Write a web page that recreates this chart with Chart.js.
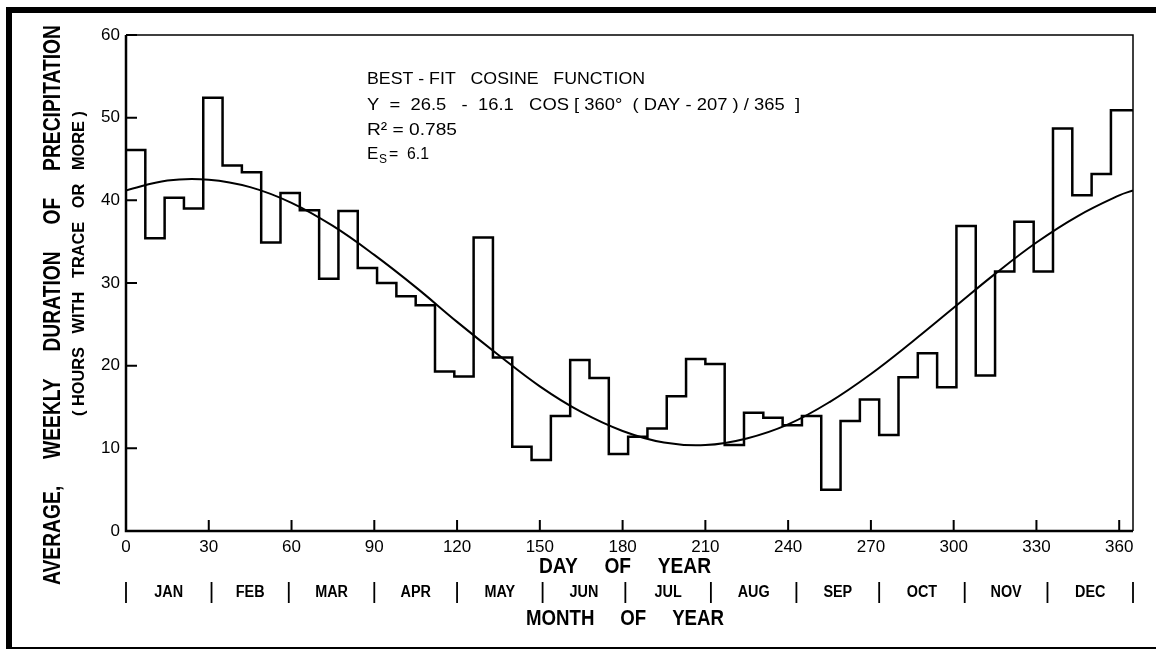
<!DOCTYPE html>
<html>
<head>
<meta charset="utf-8">
<script src="https://cdn.jsdelivr.net/npm/chart.js@4.4.1/dist/chart.umd.min.js"></script>
<style>
  html, body { margin: 0; padding: 0; background: #fff; }
  canvas { display: block; }
</style>
</head>
<body>
<canvas id="myChart" width="1156" height="650"></canvas>
<script>
// weekly bins (start day of each week) and average weekly hours of precipitation
const weekStarts = [0, 7, 14, 21, 28, 35, 42, 49, 56, 63, 70, 77, 84, 91, 98, 105, 112, 119, 126, 133,
    140, 147, 154, 161, 168, 175, 182, 189, 196, 203, 210, 217, 224, 231, 238, 245, 252, 259, 266, 273,
    280, 287, 294, 301, 308, 315, 322, 329, 336, 343, 350, 357];
const weeklyHours = [46.1, 35.4, 40.3, 39.0, 52.4, 44.2, 43.4, 34.9, 40.9, 38.8, 30.5, 38.7, 31.8, 30.0,
    28.4, 27.3, 19.3, 18.7, 35.5, 21.0, 10.2, 8.6, 13.9, 20.7, 18.5, 9.3, 11.4, 12.4, 16.3, 20.8, 20.2,
    10.4, 14.3, 13.7, 12.8, 13.9, 5.0, 13.3, 15.9, 11.6, 18.6, 21.5, 17.4, 36.9, 18.8, 31.4, 37.4, 31.4,
    48.7, 40.6, 43.2, 50.9];
const yearEnd = 365;

const fitDays = [0, 15, 30, 45, 60, 75, 90, 105, 120, 135, 150, 165, 180, 195, 210, 225, 240, 255, 270,
    285, 300, 315, 330, 345, 360, 365];
const fitHours = [41.2, 42.4, 42.5, 41.6, 39.7, 36.9, 33.4, 29.5, 25.3, 21.3, 17.5, 14.4, 12.1, 10.7,
    10.4, 11.2, 12.9, 15.6, 19.0, 22.9, 27.0, 31.1, 34.9, 38.1, 40.6, 41.2];

// axis ticks and months
const dayTicks = [0, 30, 60, 90, 120, 150, 180, 210, 240, 270, 300, 330, 360];
const hourTicks = [0, 10, 20, 30, 40, 50, 60];
const monthNames = ['JAN', 'FEB', 'MAR', 'APR', 'MAY', 'JUN', 'JUL', 'AUG', 'SEP', 'OCT', 'NOV', 'DEC'];
const monthStarts = [0, 31, 59, 90, 120, 151, 181, 212, 243, 273, 304, 334, 365];

const annotation = [
    'BEST - FIT   COSINE   FUNCTION',
    'Y  =  26.5   -  16.1   COS [ 360\u00b0  ( DAY - 207 ) / 365  ]',
    'R\u00b2 = 0.785'
];

const FONT = '"Liberation Sans", Arial, sans-serif';

let stepPoints = weekStarts.map((d, i) => ({ x: d, y: weeklyHours[i] }));
stepPoints.push({ x: yearEnd, y: weeklyHours[weeklyHours.length - 1] });
const fitPoints = fitDays.map((d, i) => ({ x: d, y: fitHours[i] }));

// draw text squeezed/stretched to a given width
function fitText(ctx, text, x, y, w, font) {
    ctx.font = font;
    const m = ctx.measureText(text).width;
    ctx.save();
    ctx.translate(x, y);
    ctx.scale(w / m, 1);
    ctx.textAlign = 'left';
    ctx.fillText(text, 0, 0);
    ctx.restore();
}

const decorations = {
    id: 'decorations',
    afterDraw(chart) {
        const ctx = chart.ctx;
        const area = chart.chartArea;
        const xs = chart.scales.x;
        const ys = chart.scales.y;
        ctx.save();
        ctx.fillStyle = '#000';
        ctx.strokeStyle = '#000';
        ctx.textBaseline = 'middle';

        // plot frame
        ctx.lineWidth = 1.5;
        ctx.beginPath();
        ctx.moveTo(area.left, area.top);
        ctx.lineTo(area.right, area.top);
        ctx.lineTo(area.right, area.bottom);
        ctx.stroke();
        ctx.lineWidth = 2.5;
        ctx.beginPath();
        ctx.moveTo(area.left, area.top);
        ctx.lineTo(area.left, area.bottom);
        ctx.lineTo(area.right, area.bottom);
        ctx.stroke();

        // inward tick marks
        ctx.lineWidth = 2;
        ctx.beginPath();
        for (const v of hourTicks) {
            const py = ys.getPixelForValue(v);
            ctx.moveTo(area.left, py);
            ctx.lineTo(area.left + 11, py);
        }
        for (const v of dayTicks) {
            const px = xs.getPixelForValue(v);
            ctx.moveTo(px, area.bottom);
            ctx.lineTo(px, area.bottom - 11);
        }
        ctx.stroke();

        // month row
        ctx.lineWidth = 1.8;
        ctx.beginPath();
        for (const d of monthStarts) {
            const px = xs.getPixelForValue(d);
            ctx.moveTo(px, 582);
            ctx.lineTo(px, 603);
        }
        ctx.stroke();
        ctx.font = 'bold 16px ' + FONT;
        for (let i = 0; i < monthNames.length; i++) {
            const a = xs.getPixelForValue(monthStarts[i]);
            const b = xs.getPixelForValue(monthStarts[i + 1]);
            const w = ctx.measureText(monthNames[i]).width * 0.9;
            fitText(ctx, monthNames[i], (a + b) / 2 - w / 2, 593, w, 'bold 16px ' + FONT);
        }

        // axis titles
        fitText(ctx, 'DAY     OF     YEAR', 539, 567, 172, 'bold 22px ' + FONT);
        fitText(ctx, 'MONTH     OF     YEAR', 526, 619, 198, 'bold 22px ' + FONT);

        ctx.save();
        ctx.translate(54, 585);
        ctx.rotate(-Math.PI / 2);
        fitText(ctx, 'AVERAGE,     WEEKLY     DURATION     OF     PRECIPITATION', 0, 0, 560, 'bold 23px ' + FONT);
        ctx.restore();
        ctx.save();
        ctx.translate(79, 416);
        ctx.rotate(-Math.PI / 2);
        fitText(ctx, '( HOURS   WITH   TRACE   OR   MORE )', 0, 0, 305, 'bold 17px ' + FONT);
        ctx.restore();

        // fit annotation
        const f = '17px ' + FONT;
        fitText(ctx, annotation[0], 367, 79, 278, f);
        fitText(ctx, annotation[1], 367, 105, 433, f);
        fitText(ctx, annotation[2], 367, 130, 90, f);
        ctx.font = f;
        ctx.textAlign = 'left';
        ctx.fillText('E', 367, 154);
        ctx.font = '12px ' + FONT;
        ctx.fillText('S', 379, 160);
        fitText(ctx, '=  6.1', 389, 154, 40, f);

        // outer frame
        ctx.fillRect(6, 7, 6, 642);
        ctx.fillRect(6, 7, 1150, 6);
        ctx.fillRect(6, 647, 1150, 2);
        ctx.restore();
    }
};

const ctx = document.getElementById('myChart');
new Chart(ctx, {
    type: 'line',
    data: {
        datasets: [
            {
                label: 'Weekly hours',
                data: stepPoints,
                stepped: true,
                borderColor: '#000',
                borderWidth: 2.5,
                pointRadius: 0,
                fill: false
            },
            {
                label: 'Cosine fit',
                data: fitPoints,
                tension: 0.4,
                borderColor: '#000',
                borderWidth: 2,
                pointRadius: 0,
                fill: false
            }
        ]
    },
    options: {
        responsive: false,
        animation: false,
        devicePixelRatio: 1,
        layout: { padding: { left: 0, top: 35, right: 23, bottom: 0 } },
        plugins: { legend: { display: false }, tooltip: { enabled: false } },
        scales: {
            x: {
                type: 'linear',
                min: 0,
                max: yearEnd,
                afterFit(scale) { scale.height = 119; },
                afterBuildTicks(scale) { scale.ticks = dayTicks.map(v => ({ value: v })); },
                grid: { display: false, drawTicks: false },
                border: { display: false },
                ticks: { padding: 6, color: '#000', font: { family: FONT, size: 17 }, maxRotation: 0 }
            },
            y: {
                min: 0,
                max: 60,
                afterFit(scale) { scale.width = 126; },
                afterBuildTicks(scale) { scale.ticks = hourTicks.map(v => ({ value: v })); },
                grid: { display: false, drawTicks: false },
                border: { display: false },
                ticks: { padding: 6, color: '#000', font: { family: FONT, size: 17 } }
            }
        }
    },
    plugins: [decorations]
});
</script>
</body>
</html>
